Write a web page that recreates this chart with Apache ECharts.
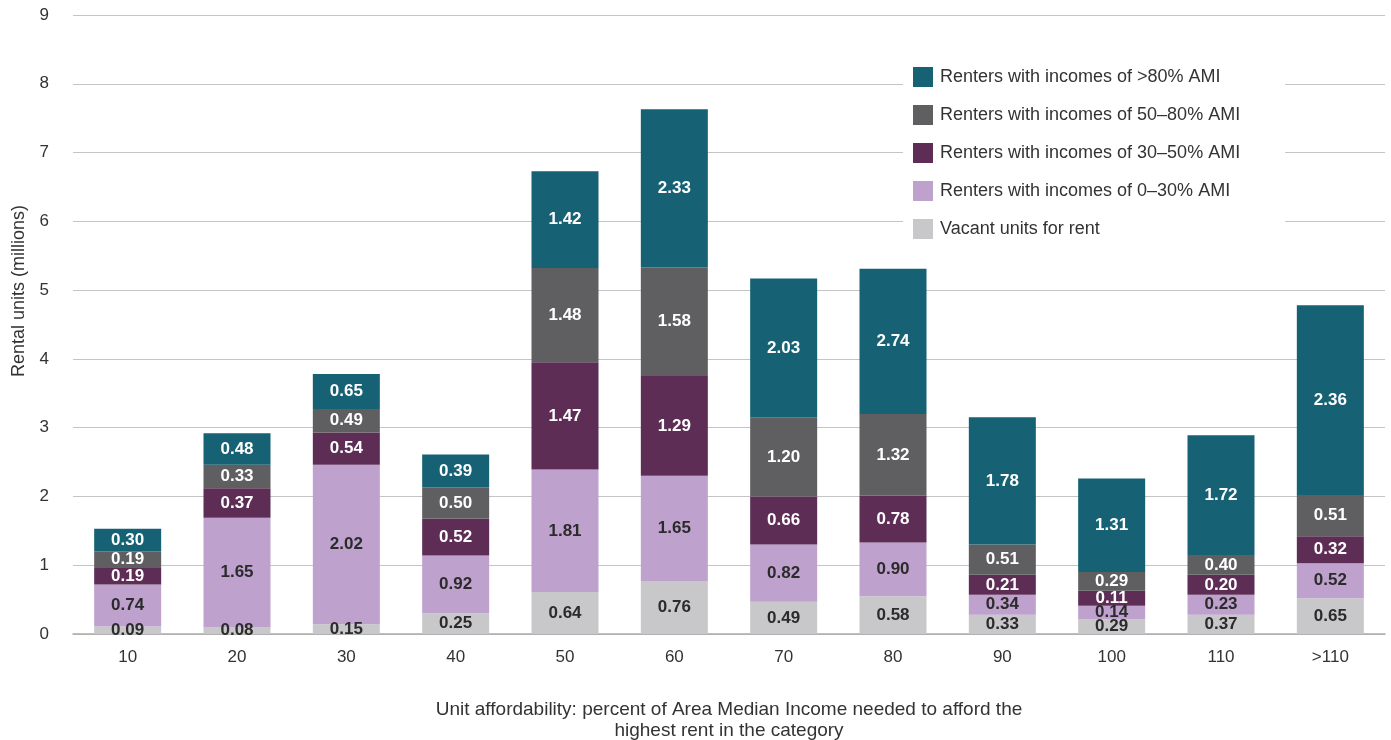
<!DOCTYPE html>
<html><head><meta charset="utf-8">
<script src="https://cdn.jsdelivr.net/npm/echarts@6/dist/echarts.min.js"></script>
<style>html,body{margin:0;padding:0;background:#fff}#c{width:1391px;height:740px}</style>
</head><body><div id="c"></div>
<script>
const categories = ['10','20','30','40','50','60','70','80','90','100','110','>110'];
// segment heights as drawn in the picture
const vacant   = [0.11,0.10,0.14,0.30,0.61,0.77,0.47,0.55,0.28,0.21,0.28,0.52];
const ami0_30  = [0.61,1.59,2.32,0.84,1.78,1.53,0.83,0.78,0.29,0.20,0.29,0.51];
const ami30_50 = [0.24,0.43,0.47,0.54,1.56,1.45,0.70,0.68,0.29,0.22,0.29,0.39];
const ami50_80 = [0.24,0.34,0.34,0.45,1.37,1.58,1.15,1.19,0.44,0.27,0.29,0.60];
const ami80    = [0.33,0.46,0.51,0.48,1.41,2.30,2.02,2.11,1.85,1.36,1.74,2.76];
// value labels as printed on the segments
const vacantLabels   = ['0.09','0.08','0.15','0.25','0.64','0.76','0.49','0.58','0.33','0.29','0.37','0.65'];
const ami0_30Labels  = ['0.74','1.65','2.02','0.92','1.81','1.65','0.82','0.90','0.34','0.14','0.23','0.52'];
const ami30_50Labels = ['0.19','0.37','0.54','0.52','1.47','1.29','0.66','0.78','0.21','0.11','0.20','0.32'];
const ami50_80Labels = ['0.19','0.33','0.49','0.50','1.48','1.58','1.20','1.32','0.51','0.29','0.40','0.51'];
const ami80Labels    = ['0.30','0.48','0.65','0.39','1.42','2.33','2.03','2.74','1.78','1.31','1.72','2.36'];
const yTicks = [0,1,2,3,4,5,6,7,8,9];

const chart = echarts.init(document.getElementById('c'));
const baseFont = '"Liberation Sans",Arial,sans-serif';
function mk(name, data, labels, color, textColor){
  return {name, type:'bar', stack:'s', data, barWidth:67,
    itemStyle:{color},
    label:{show:true, position:'inside', formatter:p=>labels[p.dataIndex],
      color:textColor, fontFamily:baseFont, fontWeight:'bold', fontSize:17}};
}
chart.setOption({
  animation:false,
  textStyle:{fontFamily:baseFont},
  grid:{left:73,right:6,top:15,bottom:106,outerBoundsMode:'none',containLabel:false},
  legend:{
    data:['Renters with incomes of >80% AMI','Renters with incomes of 50–80% AMI','Renters with incomes of 30–50% AMI','Renters with incomes of 0–30% AMI','Vacant units for rent'],
    orient:'vertical', left:903, top:57, itemWidth:20, itemHeight:20, itemGap:18,
    icon:'rect', backgroundColor:'#fff', padding:[10,45,10,10],
    textStyle:{fontSize:18, color:'#333', padding:[0,0,0,2]}
  },
  xAxis:{type:'category', data:categories,
    axisLine:{lineStyle:{color:'#aaa',width:1.5}}, axisTick:{show:false},
    axisLabel:{fontSize:17, color:'#333', margin:15},
    name:'Unit affordability: percent of Area Median Income needed to afford the\nhighest rent in the category',
    nameLocation:'middle', nameGap:65,
    nameTextStyle:{fontSize:19, color:'#333', lineHeight:21, verticalAlign:'top'}
  },
  yAxis:{type:'value', min:0, max:9, interval:1,
    axisLabel:{fontSize:17, color:'#333', margin:24, formatter:v=>yTicks.includes(v)?String(v):''},
    splitLine:{lineStyle:{color:'#c4c4c4',width:1}},
    axisLine:{show:false}, axisTick:{show:false}
  },
  graphic:[{type:'text', left:10, top:205, rotation:Math.PI/2,
    style:{text:'Rental units (millions)', fontSize:18, fill:'#333', fontFamily:baseFont}}],
  series:[
    mk('Vacant units for rent', vacant, vacantLabels, '#c8c8ca', '#2b2b2b'),
    mk('Renters with incomes of 0–30% AMI', ami0_30, ami0_30Labels, '#bea1cc', '#2b2b2b'),
    mk('Renters with incomes of 30–50% AMI', ami30_50, ami30_50Labels, '#5d2d55', '#fff'),
    mk('Renters with incomes of 50–80% AMI', ami50_80, ami50_80Labels, '#5f5f61', '#fff'),
    mk('Renters with incomes of >80% AMI', ami80, ami80Labels, '#166173', '#fff')
  ]
});
</script></body></html>
